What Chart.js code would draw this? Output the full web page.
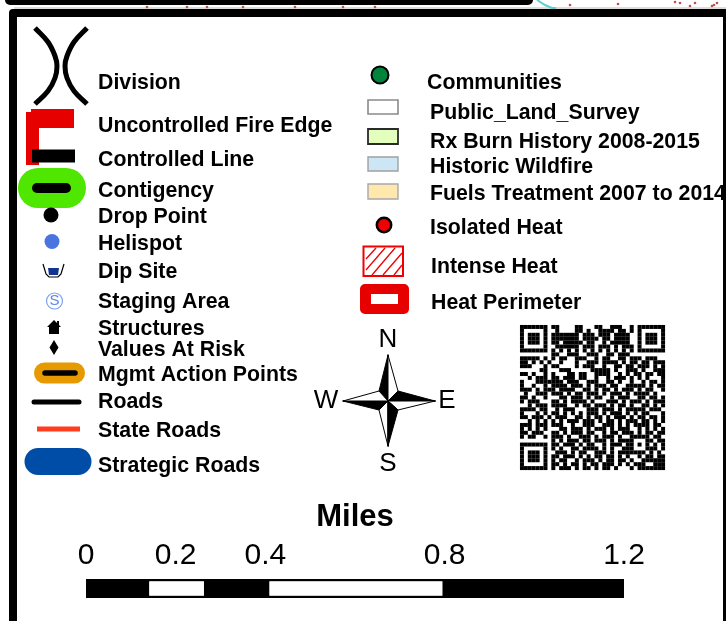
<!DOCTYPE html>
<html><head><meta charset="utf-8">
<script src="https://cdn.jsdelivr.net/npm/chart.js@4/dist/chart.umd.min.js"></script>
<style>html,body{margin:0;padding:0;background:#fff;width:726px;height:621px;overflow:hidden}
canvas{position:absolute;left:0}#sheet{top:0}#bar{top:490px}</style></head>
<body><canvas id="sheet" width="726" height="621"></canvas><canvas id="bar" width="726" height="131"></canvas>
<script>
// ---- legend text
const leftLabels=["Division","Uncontrolled Fire Edge","Controlled Line","Contigency","Drop Point","Helispot","Dip Site","Staging Area","Structures","Values At Risk","Mgmt Action Points","Roads","State Roads","Strategic Roads"];
const leftLabelY=[83,126,160,191,217,244,272,302,329,350,375,402,431,466];
const rightLabels=["Communities","Public_Land_Survey","Rx Burn History 2008-2015","Historic Wildfire","Fuels Treatment 2007 to 2014","Isolated Heat","Intense Heat","Heat Perimeter"];
const rightLabelX=[427,430,430,430,430,430,431,431];
const rightLabelY=[83,113,142,167,194,228,267,303];
const compassLabels=["N","W","E","S"];
const compassLabelX=[388,326,447,388];
const compassLabelY=[340,401,401,464];
// ---- scale bar
const milesTicks=[0,0.2,0.4,0.8,1.2];
const milesSegments=[0.136,0.132,0.136,0.396,0.4];
// ---- legend symbol geometry (sheet coordinates)
const divisionLeft=[[35,28],[48,42],[55,56],[57,66],[55,78],[48,91],[35,104]];
const divisionRight=[[87,28],[74,42],[67,56],[65,66],[67,78],[74,91],[87,104]];
const fireTop=[[31,118.5],[74,118.5]];
const fireSide=[[32.5,112],[32.5,165]];
const controlledLine=[[32,156],[75,156]];
const contingencyOuter=[[38,188],[66,188]];
const contingencyInner=[[37,188],[66,188]];
const dipBasin=[[43,264],[46,274],[49,277],[58,277],[61,274],[64,264]];
const dipWater=[[48,268],[59,268],[58,275],[49,275]];
const house=[[54,320],[57,323],[57,321],[59,321],[59,325],[61,327],[59,327],[59,334],[49,334],[49,327],[47,327]];
const valueDiamond=[[54,340],[58.5,347.5],[54,355],[49.5,347.5]];
const mgmtOuter=[[44.5,373],[74.5,373]];
const mgmtInner=[[45,373],[75,373]];
const roadsLine=[[34,402],[79,402]];
const stateRoadsLine=[[37,429],[80,429]];
const strategicLine=[[38,461.5],[78,461.5]];
const pointX=[51,52,380,384];
const pointY=[215,241.5,75,225];
const stagingCircle=[54.5,301];
const publicLandBox=[[368,100],[398,100],[398,114],[368,114]];
const rxBurnBox=[[368,129],[398,129],[398,144],[368,144]];
const wildfireBox=[[368,157],[398,157],[398,171],[368,171]];
const fuelsBox=[[368,184],[398,184],[398,199],[368,199]];
const intenseBox=[[363.5,246.5],[403,246.5],[403,276],[363.5,276]];
const intenseHatch=[[366,259],[376,248],null,[366,270],[385,248],null,[372,275],[395,248],null,[383,275],[402,253],null,[394,275],[402,265]];
const perimeterBox=[[365,289],[404,289],[404,309],[365,309]];
const perimeterHole=[[371,294],[398,294],[398,304],[371,304]];
// ---- compass rose
const starN=[388,355],starS=[388,446],starW=[343,401],starE=[435,401],starC=[388,401];
const innerNW=[379,391],innerNE=[398,391],innerSE=[398,410],innerSW=[379,410];
// ---- frame and the strip of map left above it
const frameLine=[[13,621],[13,13],[726,13]];
const frameRight=[[726,9],[726,621]];
const upperFrame=[[10,0],[528,0]];
const mapEdge=[[14,8],[726,8]];
const mapTeal=[[537,0],[545,5],[552,8],[556,8]];
const mapDotX=[147,187,207,243,295,343,375,570,618,675,680,690,695,712,714,717];
const mapDotY=[7,7,7,7,7,7,7,5,4,2,3,6,3,6,5,3];
// ---- QR code
const qrRows=[
"#######.##....##...##..###..#.#######",
"#.....#..#....##.#..####.##.#.#.....#",
"#.###.#.#######.###.###.####..#.###.#",
"#.###.#.#######.####.##.####..#.###.#",
"#.###.#.##.#####.##..#.#####..#.###.#",
"#.....#..######.###.###.#.###.#.....#",
"#######.#.#.#.#.#.#.#.#.#.#.#.#######",
"........##..###..###..##.###.........",
"#####.#.#.##..###..#.##..##.###.###..",
"##.#.#.#..#...#..###.####.#.##.##.###",
"###...#.##....#.###..#..##.##.###.#.#",
".....##...###.....#####.#..###.#..###",
"##.#..#.#...##.##..####..#.#.##.##.##",
"..#.###.##.###.##..#..#.###.#.#.#...#",
"#...#######.###..###..##.#..#..#.##.#",
"#..#..#.####.###.#.###.##..#####.#.##",
"###.#.###.####..##.#.##.#.###.#.##..#",
".#..###.###.#.##.###.#.###.#.####.#..",
"##.#..#...##.###.#.##..#.###..##.##.#",
"#.###...##.#.####.#...###.#.###.#.###",
"..#.###.####..#.##.###.#.##.#..##.#.#",
"####.##..#.###...###.###.#.#####.###.",
"#...#.#.##.#.#.#.###.#.###.#.#.##...#",
"##.###.#.###..##.#.##.#.###.#.##.##.#",
"..#.#.#.#.#.###.###.#.##.#.###.##.#.#",
"###.###.###..#..###..###.#.#.####.##.",
"#.#.#.#...##.###.#.###.#.###..#.#.#.#",
"##.###..##.#.###.##..#.##.###.#.##.##",
"#.##..#.###.#..###.#.###.#..#####.##.",
"........#.#.###.##.###.#.####...##.##",
"#######.##.###.#.##..#.###.##.#.#.#.#",
"#.....#.#.#..##.####.#.#..###...###.#",
"#.###.#..###.#.##..###.#.#######.#.#.",
"#.###.#.##.###.#.#.##.##.#.#..#.##.##",
"#.###.#.#.##..#.###.#.##.##.#..######",
"#.....#.##.#.##.#.##.###.#.#.###..###",
"#######.#.###.#.##.#.##.#...#.#######"];
const qrLeft=520, qrTop=325, qrModule=3.92;

const sans='"Liberation Sans", Arial, sans-serif';
const xy=p=>p?{x:p[0],y:p[1]}:{x:null,y:null};
const line=(pts,color,width,cap='butt')=>({showLine:true,pointRadius:0,data:pts.map(xy),borderColor:color,borderWidth:width,borderCapStyle:cap,borderJoinStyle:'miter',fill:false,tension:0,spanGaps:false});
const poly=(pts,fillColor,stroke,width)=>({showLine:true,pointRadius:0,data:pts.concat([pts[0]]).map(xy),backgroundColor:fillColor,borderColor:stroke||fillColor,borderWidth:width||0,borderJoinStyle:'miter',borderCapStyle:'square',fill:'shape',tension:0});
const dot=(i,r,fillColor,stroke,width)=>({showLine:false,data:[{x:pointX[i],y:pointY[i]}],pointStyle:'circle',pointRadius:r,backgroundColor:fillColor,pointBackgroundColor:fillColor,pointBorderColor:stroke||fillColor,pointBorderWidth:width||0});
const curve=(pts,width)=>Object.assign(line(pts,'#000',width),{tension:0.4});

const qrPoints=[];
qrRows.forEach((row,r)=>[...row].forEach((c,k)=>{if(c==='#')qrPoints.push({x:qrLeft+(k+.5)*qrModule,y:qrTop+(r+.5)*qrModule});}));

const paint=[
 line(mapEdge,'#b8b8b8',1),
 line(mapTeal,'#5fd0d0',2),
 {showLine:false,data:mapDotX.map((x,i)=>({x,y:mapDotY[i]})),pointStyle:'circle',pointRadius:1.3,pointBackgroundColor:'#c0504d',pointBorderWidth:0},
 curve(divisionLeft,5),curve(divisionRight,5),
 line(fireSide,'#e60000',13),line(fireTop,'#e60000',19),
 line(controlledLine,'#000',13),
 line(contingencyOuter,'#4fe600',40,'round'),line(contingencyInner,'#000',10,'round'),
 dot(0,7.5,'#000'),dot(1,7.5,'#4a74e0'),
 poly(dipWater,'#12348c'),line(dipBasin,'#000',1.2),
 {showLine:false,data:[{x:stagingCircle[0],y:stagingCircle[1]}],pointStyle:'circle',pointRadius:8,pointBackgroundColor:'#fff',pointBorderColor:'#7da0f0',pointBorderWidth:1.2},
 poly(house,'#000'),poly(valueDiamond,'#000'),
 line(mgmtOuter,'#e69a00',21,'round'),line(mgmtInner,'#000',5.5,'round'),
 line(roadsLine,'#000',5,'round'),line(stateRoadsLine,'#ff3c1e',5),
 line(strategicLine,'#004da8',27,'round'),
 dot(2,8.5,'#00843c','#000',2),dot(3,7.2,'#f00000','#000',2.5),
 poly(publicLandBox,'#fff','#8a8a8a',1.6),poly(rxBurnBox,'#e3ffbe','#2a2a2a',1.8),
 poly(wildfireBox,'#cce6f5','#a0a0a0',1.4),poly(fuelsBox,'#ffe8ad','#a8a8a8',1.4),
 poly(intenseBox,'#fff','#f00000',2),line(intenseHatch,'#f00000',1.3),
 Object.assign(poly(perimeterBox,'#e60000','#e60000',10),{borderJoinStyle:'round',borderCapStyle:'round'}),poly(perimeterHole,'#fff'),
 poly([starN,innerNW,starC],'#000','#000',1),poly([starN,innerNE,starC],'#fff','#000',1),
 poly([starE,innerNE,starC],'#000','#000',1),poly([starE,innerSE,starC],'#fff','#000',1),
 poly([starS,innerSE,starC],'#000','#000',1),poly([starS,innerSW,starC],'#fff','#000',1),
 poly([starW,innerSW,starC],'#000','#000',1),poly([starW,innerNW,starC],'#fff','#000',1),
 {showLine:false,data:qrPoints,pointStyle:'rect',pointRadius:qrModule/Math.SQRT2+0.05,pointBackgroundColor:'#000',pointBorderWidth:0},
 line(upperFrame,'#000',10,'round'),
 Object.assign(line(frameLine,'#000',8),{borderJoinStyle:'round'}),
 line(frameRight,'#000',6)
].reverse();

const sheetText={id:'sheetText',beforeDatasetsDraw(c){
 const {ctx,scales:{x,y}}=c;ctx.save();ctx.fillStyle='#000';ctx.textBaseline='middle';ctx.textAlign='left';
 ctx.font='bold 21.3px '+sans;
 leftLabels.forEach((t,i)=>ctx.fillText(t,x.getPixelForValue(98),y.getPixelForValue(leftLabelY[i])));
 rightLabels.forEach((t,i)=>ctx.fillText(t,x.getPixelForValue(rightLabelX[i]),y.getPixelForValue(rightLabelY[i])));
 ctx.font='26px '+sans;ctx.textAlign='center';
 compassLabels.forEach((t,i)=>ctx.fillText(t,x.getPixelForValue(compassLabelX[i]),y.getPixelForValue(compassLabelY[i])));
 ctx.restore();},
 afterDatasetsDraw(c){const {ctx,scales:{x,y}}=c;ctx.save();ctx.fillStyle='#5b86ea';ctx.font='15px '+sans;ctx.textAlign='center';ctx.textBaseline='middle';
 ctx.fillText('S',x.getPixelForValue(stagingCircle[0]),y.getPixelForValue(stagingCircle[1]));ctx.restore();}};

new Chart(document.getElementById('sheet'),{type:'scatter',plugins:[sheetText],
 data:{datasets:paint},
 options:{responsive:false,animation:false,events:[],layout:{padding:0,autoPadding:false},
  plugins:{legend:{display:false},tooltip:{enabled:false},title:{display:false}},
  scales:{x:{type:'linear',display:false,min:0,max:726},y:{type:'linear',display:false,min:0,max:621,reverse:true}}}});

new Chart(document.getElementById('bar'),{type:'bar',
 data:{labels:['Miles'],datasets:milesSegments.map((v,i)=>({data:[v],backgroundColor:i%2?'#fff':'#000',borderColor:'#000',borderWidth:i%2?2.5:0,barPercentage:1,categoryPercentage:1,borderSkipped:false}))},
 options:{indexAxis:'y',responsive:false,animation:false,events:[],
  layout:{padding:{left:86,right:102,top:12,bottom:23},autoPadding:false},
  plugins:{legend:{display:false},tooltip:{enabled:false},
   title:{display:true,text:'Miles',color:'#000',font:{family:sans,size:31,weight:'bold',lineHeight:1},padding:{top:0,bottom:0}}},
  scales:{y:{stacked:true,display:false},
   x:{stacked:true,position:'top',min:0,max:1.2,grid:{display:false,drawTicks:false},border:{display:false},
    afterBuildTicks(a){a.ticks=milesTicks.map(value=>({value}));},
    ticks:{autoSkip:false,maxRotation:0,color:'#000',font:{family:sans,size:30},padding:5,callback:v=>String(v)}}}}});
</script></body></html>
